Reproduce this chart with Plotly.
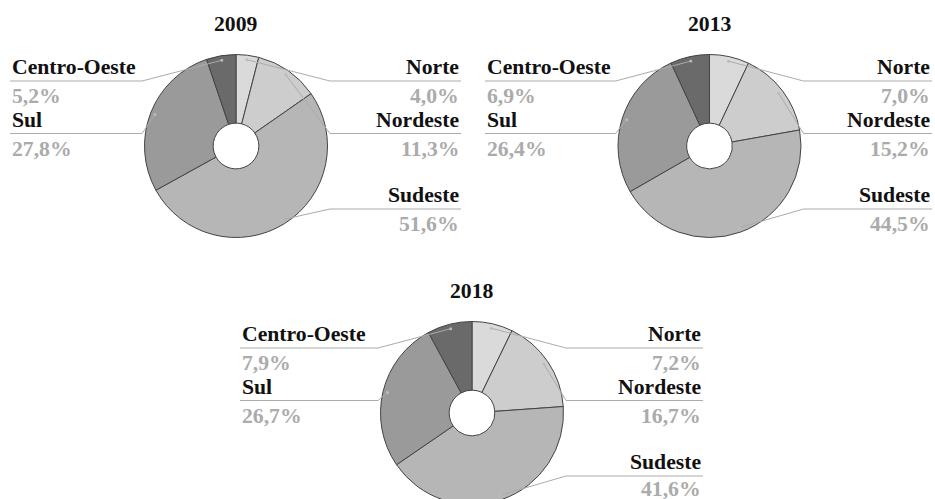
import math
import plotly.graph_objects as go

# ---------------- data ----------------
regions = ["Norte", "Nordeste", "Sudeste", "Sul", "Centro-Oeste"]
years = ["2009", "2013", "2018"]
share_2009 = [4.0, 11.3, 51.6, 27.8, 5.2]
share_2013 = [7.0, 15.2, 44.5, 26.4, 6.9]
share_2018 = [7.2, 16.7, 41.6, 26.7, 7.9]
colors = ["#dadada", "#cdcdcd", "#b6b6b6", "#9a9a9a", "#6a6a6a"]

# ---------------- layout constants ----------------
W, H = 935, 512
R = 91.5
HOLE = 0.25
charts = [
    # (year, values, cx, cy, left label edge, right label edge)
    (years[0], share_2009, 236, 146, 10, 461),
    (years[1], share_2013, 709.5, 146, 485, 932),
    (years[2], share_2018, 472, 413, 240, 703),
]
label_dy = {"Norte": -65, "Nordeste": -12.5, "Sudeste": 63, "Sul": -12.5, "Centro-Oeste": -65}
label_side = {"Norte": 1, "Nordeste": 1, "Sudeste": 1, "Sul": -1, "Centro-Oeste": -1}
FONT = "Liberation Serif, Times New Roman, Times, serif"
FS = 21.7
LINE_COLOR = "#ababab"
PCT_COLOR = "#ababab"


def px(x):
    return x / W


def py(y):
    return 1 - y / H


fig = go.Figure()
shapes = []
annotations = []

for year, values, cx, cy, lx, rx in charts:
    fig.add_trace(go.Pie(
        labels=regions,
        values=values,
        sort=False,
        direction="clockwise",
        rotation=0,
        hole=HOLE,
        textinfo="none",
        hoverinfo="label+percent",
        marker=dict(colors=colors, line=dict(color="#444444", width=1)),
        domain=dict(x=[px(cx - R), px(cx + R)], y=[py(cy + R), py(cy - R)]),
        showlegend=False,
    ))
    annotations.append(dict(
        text=year, x=px(cx), y=py(cy - 122), xref="paper", yref="paper",
        xanchor="center", yanchor="middle", showarrow=False,
        font=dict(family=FONT, size=FS, color="#111111", weight="bold"),
    ))
    total = sum(values)
    cum = 0.0
    for name, v in zip(regions, values):
        mid = (cum + v / 2) / total * 2 * math.pi
        cum += v
        r0 = 0.95 * R
        dx0 = cx + r0 * math.sin(mid)
        dy0 = cy - r0 * math.cos(mid)
        side = label_side[name]
        ly = cy + label_dy[name]
        corner_x = cx + side * 94
        edge_x = rx if side > 0 else lx
        shapes.append(dict(type="line", xref="paper", yref="paper",
                           x0=px(dx0), y0=py(dy0), x1=px(corner_x), y1=py(ly),
                           line=dict(color=LINE_COLOR, width=1), layer="above"))
        shapes.append(dict(type="line", xref="paper", yref="paper",
                           x0=px(corner_x), y0=py(ly), x1=px(edge_x), y1=py(ly),
                           line=dict(color=LINE_COLOR, width=1), layer="above"))
        shapes.append(dict(type="circle", xref="paper", yref="paper",
                           x0=px(dx0 - 1.5), x1=px(dx0 + 1.5),
                           y0=py(dy0 + 1.5), y1=py(dy0 - 1.5),
                           fillcolor="#bbbbbb", line=dict(width=0), layer="above"))
        anchor = "right" if side > 0 else "left"
        pct_y = ly + 15
        if ly + 15 > 480:
            pct_y = ly + 13
        annotations.append(dict(
            text=name, x=px(edge_x), y=py(ly - 13.7), xref="paper", yref="paper",
            xanchor=anchor, yanchor="middle", showarrow=False,
            font=dict(family=FONT, size=FS, color="#111111", weight="bold"),
        ))
        annotations.append(dict(
            text=f"{v:.1f}".replace(".", ",") + "%", x=px(edge_x), y=py(pct_y),
            xref="paper", yref="paper",
            xanchor=anchor, yanchor="middle", showarrow=False,
            font=dict(family=FONT, size=FS, color=PCT_COLOR, weight="bold"),
        ))

fig.update_layout(
    width=W, height=H,
    margin=dict(l=0, r=0, t=0, b=0),
    paper_bgcolor="white",
    plot_bgcolor="white",
    shapes=shapes,
    annotations=annotations,
)

fig.write_html(
    "out.html",
    config={"displayModeBar": False},
    post_script="document.body.style.margin='0';document.body.style.overflow='hidden';",
)
